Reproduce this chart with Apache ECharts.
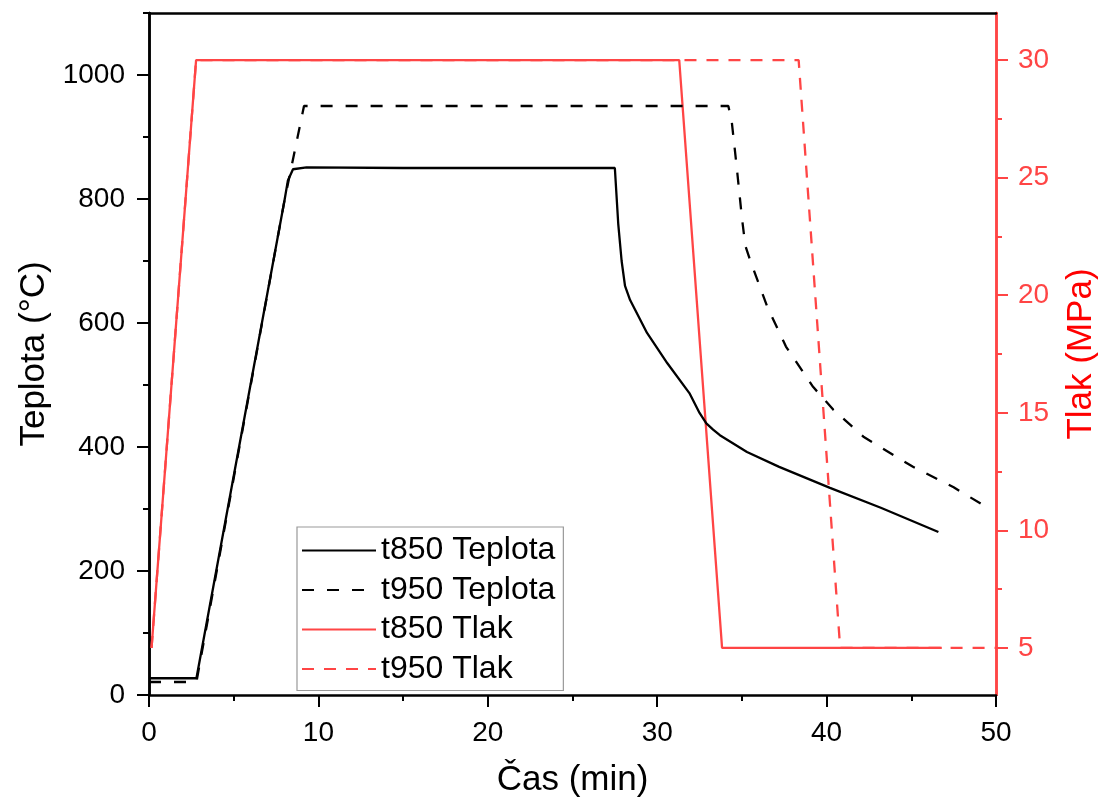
<!DOCTYPE html>
<html>
<head>
<meta charset="utf-8">
<script src="https://cdn.jsdelivr.net/npm/echarts@6/dist/echarts.min.js"></script>
<style>html,body{margin:0;padding:0;background:#fff}#c{width:1099px;height:802px}</style>
</head>
<body>
<div id="c"></div>
<script>
// ---- data ----
const xTicks = [0, 10, 20, 30, 40, 50];
const tempTicks = [0, 200, 400, 600, 800, 1000];
const tempMinor = [100, 300, 500, 700, 900, 1100];
const presTicks = [5, 10, 15, 20, 25, 30];
const presMinor = [7.5, 12.5, 17.5, 22.5, 27.5];

const t850TempTime = [0, 2.8, 8.0, 8.2, 8.5, 9.3, 15, 27.5, 27.7, 27.9, 28.1, 28.4, 29.4, 30.6, 31.9, 32.5, 32.9, 33.3, 33.7, 35.3, 37.2, 40.2, 43.2, 46.6];
const t850TempVal  = [27, 27, 798, 830, 848, 851, 850, 850, 760, 700, 660, 637, 584, 535, 487, 455, 438, 428, 419, 392, 368, 334, 302, 263];

const t950TempTime = [0, 2.8, 8.0, 9.15, 20, 34.2, 34.4, 34.7, 35.0, 35.2, 35.5, 36.5, 37.6, 39.2, 40.4, 42.2, 45.1, 47.5, 49.5];
const t950TempVal  = [21, 21, 798, 950, 950, 950, 925, 850, 770, 725, 700, 626, 562, 497, 460, 416, 368, 335, 302];

const t850PresTime = [0.15, 2.78, 31.3, 33.83, 46.8];
const t850PresVal  = [5, 30, 30, 5, 5];

const t950PresTime = [0.15, 2.78, 38.35, 40.8, 50];
const t950PresVal  = [5, 30, 30, 5, 5];

const seriesNames = ['t850 Teplota', 't950 Teplota', 't850 Tlak', 't950 Tlak'];

// ---- build ----
const zip = (a, b) => a.map((v, i) => [v, b[i]]);
const FONT = 'Liberation Sans, Arial, sans-serif';
const RED = '#ff4545';
const LW = 2.3;
const plain = v => String(v);
const chart = echarts.init(document.getElementById('c'), null, {renderer: 'canvas'});

const baseY = (pos, color, extra) => Object.assign({
  type: 'value', position: pos, min: 0, max: 1100,
  splitLine: {show: false},
  axisLine: {show: true, onZero: false, lineStyle: {color: color, width: 2.5}},
  axisTick: {show: true, inside: false, length: 12, lineStyle: {color: color, width: 2}},
  axisLabel: {show: false}
}, extra);

chart.setOption({
  animation: false,
  backgroundColor: '#fff',
  grid: {left: 149, right: 103, top: 13, bottom: 107, containLabel: false, outerBoundsMode: 'none'},
  legend: {
    data: seriesNames,
    orient: 'vertical', left: 297, top: 527,
    padding: [7, 8, 5, 4],
    borderColor: '#999', borderWidth: 1.2, borderRadius: 0,
    itemWidth: 74, itemHeight: 20, itemGap: 6.5,
    selectedMode: false,
    itemStyle: {opacity: 0},
    textStyle: {fontFamily: FONT, fontSize: 32, color: '#000', lineHeight: 33, padding: [0, 0, 0, 0]}
  },
  xAxis: [{
    type: 'value', min: 0, max: 50, interval: 10, position: 'bottom',
    name: 'Čas (min)', nameLocation: 'middle', nameGap: 68,
    nameTextStyle: {fontFamily: FONT, fontSize: 35, color: '#000'},
    splitLine: {show: false},
    axisLine: {show: true, onZero: false, lineStyle: {color: '#000', width: 2.5}},
    axisTick: {show: true, inside: false, length: 12, lineStyle: {color: '#000', width: 2}},
    minorTick: {show: true, splitNumber: 2, length: 6, lineStyle: {color: '#000', width: 2}},
    axisLabel: {fontFamily: FONT, fontSize: 28, color: '#000', margin: 24, customValues: xTicks, formatter: plain}
  }, {
    type: 'value', min: 0, max: 50, position: 'top',
    splitLine: {show: false},
    axisLine: {show: true, onZero: false, lineStyle: {color: '#000', width: 2.5}},
    axisTick: {show: false}, axisLabel: {show: false}
  }],
  yAxis: [
    baseY('left', '#000', {
      name: 'Teplota (°C)', nameLocation: 'middle', nameGap: 94, nameRotate: 90,
      nameTextStyle: {fontFamily: FONT, fontSize: 35, color: '#000'},
      axisTick: {show: true, inside: false, length: 12, lineStyle: {color: '#000', width: 2}, customValues: tempTicks},
      axisLabel: {show: true, fontFamily: FONT, fontSize: 28, color: '#000', margin: 24, customValues: tempTicks, formatter: plain}
    }),
    baseY('right', RED, {
      min: 3, max: 32,
      name: 'Tlak (MPa)', nameLocation: 'middle', nameGap: 68, nameRotate: 90,
      nameTextStyle: {fontFamily: FONT, fontSize: 35, color: '#ff0000'},
      axisTick: {show: true, inside: false, length: 12, lineStyle: {color: RED, width: 2}, customValues: presTicks},
      axisLabel: {show: true, fontFamily: FONT, fontSize: 28, color: RED, margin: 22, customValues: presTicks, formatter: plain}
    }),
    baseY('left', '#000', {
      axisTick: {show: true, inside: false, length: 6, lineStyle: {color: '#000', width: 2}, customValues: tempMinor}
    }),
    baseY('right', RED, {
      min: 3, max: 32,
      axisTick: {show: true, inside: false, length: 6, lineStyle: {color: RED, width: 2}, customValues: presMinor}
    })
  ],
  series: [
    {name: seriesNames[0], type: 'line', xAxisIndex: 0, yAxisIndex: 0, data: zip(t850TempTime, t850TempVal),
     symbol: 'none', showSymbol: false, color: '#000', lineStyle: {color: '#000', width: LW, type: 'solid'}, z: 3},
    {name: seriesNames[1], type: 'line', xAxisIndex: 0, yAxisIndex: 0, data: zip(t950TempTime, t950TempVal),
     symbol: 'none', showSymbol: false, color: '#000', lineStyle: {color: '#000', width: LW, type: [12, 13]}, z: 3},
    {name: seriesNames[2], type: 'line', xAxisIndex: 0, yAxisIndex: 1, data: zip(t850PresTime, t850PresVal),
     symbol: 'none', showSymbol: false, color: RED, lineStyle: {color: RED, width: LW, type: 'solid'}, z: 2},
    {name: seriesNames[3], type: 'line', xAxisIndex: 0, yAxisIndex: 1, data: zip(t950PresTime, t950PresVal),
     symbol: 'none', showSymbol: false, color: RED, lineStyle: {color: RED, width: LW, type: [12, 10]}, z: 2}
  ]
});
</script>
</body>
</html>
